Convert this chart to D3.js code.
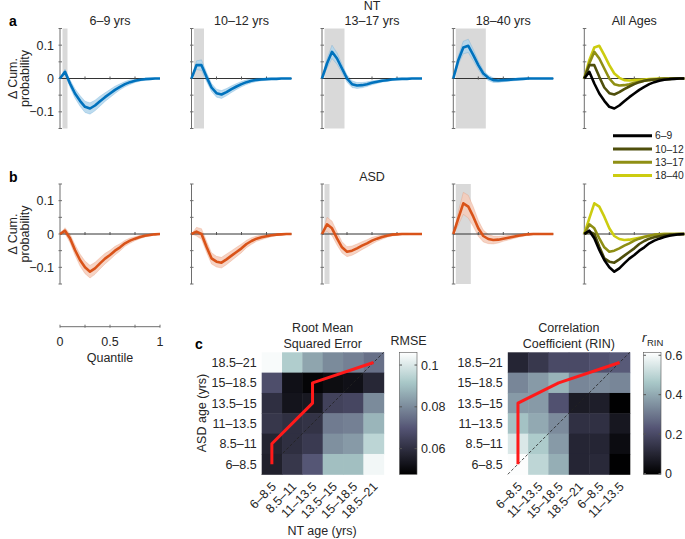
<!DOCTYPE html>
<html><head><meta charset="utf-8">
<script src="https://cdn.jsdelivr.net/npm/d3@7"></script>
<style>body{margin:0;background:#fff}svg{font-family:"Liberation Sans",Arial,sans-serif;}</style>
</head><body>
<svg id="chart" width="685" height="539"></svg>
<script>
// ---------------- DATA ----------------
const quantiles = [0,0.05,0.1,0.15,0.2,0.25,0.3,0.35,0.4,0.45,0.5,0.55,0.6,0.65,0.7,0.75,0.8,0.85,0.9,0.95,1];
const ageGroups = ["6–9","10–12","13–17","18–40"];
const panelTitles = ["6–9 yrs","10–12 yrs","13–17 yrs","18–40 yrs","All Ages"];

// NT mean Δ cumulative probability
const nt6_9   = [0,0.02,-0.015,-0.045,-0.067,-0.085,-0.09,-0.081,-0.068,-0.056,-0.045,-0.034,-0.025,-0.017,-0.011,-0.007,-0.004,-0.002,-0.001,0,0];
const nt10_12 = [0,0.04,0.04,0.005,-0.027,-0.044,-0.048,-0.041,-0.032,-0.024,-0.017,-0.011,-0.007,-0.004,-0.003,-0.002,-0.001,-0.001,0,0,0];
const nt13_17 = [0,0.045,0.08,0.06,0.03,0,-0.017,-0.021,-0.02,-0.017,-0.013,-0.01,-0.007,-0.005,-0.003,-0.002,-0.001,-0.001,0,0,0];
const nt18_40 = [0,0.055,0.093,0.098,0.07,0.04,0.015,0.002,-0.005,-0.006,-0.005,-0.004,-0.003,-0.002,-0.001,0,0,0,0,0,0];
// NT band half-widths
const ntErr6_9   = [0,0.008,0.011,0.014,0.016,0.017,0.017,0.016,0.015,0.013,0.012,0.011,0.009,0.008,0.007,0.005,0.004,0.003,0.002,0.001,0];
const ntErr10_12 = [0,0.013,0.016,0.014,0.012,0.012,0.012,0.011,0.01,0.009,0.008,0.007,0.006,0.005,0.004,0.003,0.002,0.002,0.001,0.001,0];
const ntErr13_17 = [0,0.014,0.02,0.017,0.013,0.011,0.01,0.009,0.008,0.007,0.006,0.005,0.004,0.004,0.003,0.002,0.002,0.001,0.001,0.001,0];
const ntErr18_40 = [0,0.013,0.019,0.02,0.017,0.013,0.01,0.008,0.007,0.006,0.005,0.004,0.004,0.003,0.002,0.002,0.001,0.001,0.001,0.001,0];

// ASD mean Δ cumulative probability
const asd6_9   = [0,0.01,-0.013,-0.048,-0.078,-0.1,-0.113,-0.103,-0.088,-0.074,-0.063,-0.05,-0.04,-0.028,-0.02,-0.014,-0.009,-0.005,-0.003,-0.001,0];
const asd10_12 = [0,0.007,0,-0.038,-0.073,-0.083,-0.086,-0.076,-0.065,-0.054,-0.043,-0.03,-0.021,-0.014,-0.01,-0.007,-0.004,-0.002,-0.001,0,0];
const asd13_17 = [0,0.029,0.017,-0.013,-0.04,-0.053,-0.05,-0.043,-0.035,-0.028,-0.02,-0.014,-0.009,-0.005,-0.002,-0.001,0,0,0,0,0];
const asd18_40 = [0,0.047,0.092,0.082,0.052,0.017,-0.006,-0.015,-0.018,-0.017,-0.014,-0.011,-0.008,-0.005,-0.003,-0.001,0,0,0,0,0];
// ASD band half-widths
const asdErr6_9   = [0,0.009,0.013,0.016,0.018,0.019,0.019,0.018,0.017,0.016,0.014,0.013,0.011,0.009,0.008,0.006,0.005,0.004,0.003,0.002,0];
const asdErr10_12 = [0,0.013,0.016,0.017,0.017,0.016,0.016,0.016,0.015,0.014,0.013,0.011,0.01,0.008,0.007,0.005,0.004,0.003,0.002,0.001,0];
const asdErr13_17 = [0,0.021,0.022,0.02,0.017,0.015,0.014,0.013,0.012,0.011,0.01,0.008,0.007,0.005,0.004,0.003,0.002,0.002,0.001,0.001,0];
const asdErr18_40 = [0,0.02,0.033,0.034,0.03,0.024,0.018,0.014,0.012,0.01,0.008,0.007,0.006,0.005,0.004,0.003,0.002,0.002,0.001,0.001,0];

// significant quantile intervals (grey)
const ntSig  = [[0.025,0.075],[0.025,0.125],[0.025,0.225],[0.025,0.325]];
const asdSig = [null,null,[0.025,0.075],[0.025,0.175]];

const yTicks = [-0.15,-0.1,-0.05,0,0.05,0.1,0.15];
const yTickLabels = [-0.1,0,0.1];
const qTicks = [0,0.25,0.5,0.75,1];
const qTickLabels = [0,0.5,1];

// heatmaps (rows from top: ASD 18.5–21 ... 6–8.5; cols NT bins)
const ageBins = ["6–8.5","8.5–11","11–13.5","13.5–15","15–18.5","18.5–21"];
const rinXLabels = ["6–8.5","11–13.5","15–18.5","18.5–21","6–8.5","11–13.5"];
const rmse = [
  [0.105,0.093,0.085,0.080,0.078,0.075],
  [0.068,0.052,0.049,0.051,0.052,0.058],
  [0.060,0.053,0.054,0.065,0.066,0.080],
  [0.062,0.060,0.061,0.077,0.078,0.088],
  [0.057,0.060,0.063,0.081,0.083,0.095],
  [0.056,0.062,0.070,0.090,0.090,0.104]
];
const rin = [
  [0.10,0.15,0.20,0.20,0.22,0.24],
  [0.33,0.37,0.42,0.33,0.34,0.33],
  [0.37,0.37,0.22,0.07,0.08,0.00],
  [0.45,0.40,0.34,0.13,0.13,0.06],
  [0.55,0.47,0.37,0.10,0.10,0.03],
  [0.61,0.50,0.41,0.10,0.11,0.00]
];
// best-match paths [colIndex,rowIndex from bottom]
const rmsePath = [[0,0],[0,1],[2,3],[2,4],[5,5]];
const rinPath  = [[0,0],[0,3],[2,4],[5,5]];
const rmseTicks = [0.06,0.08,0.1];
const rinTicks = [0,0.2,0.4,0.6];

// ---------------- DRAW ----------------
const svg = d3.select("#chart");
const TXT = "#262626";
const AX = "#6e6e6e";
const ntColor = "#0072BD", ntBand = "#b2d5eb";
const asdColor = "#D95319", asdBand = "#f4cbba";
const ageColors = ["#000000","#4f4f0c","#8f8f14","#cccc10"];

const colX = [60, 191.5, 322, 453.3, 584.3];
const rowTop = [28.5, 184];
const PW = 100, PH = 100;

const rows = [
  {means:[nt6_9,nt10_12,nt13_17,nt18_40], errs:[ntErr6_9,ntErr10_12,ntErr13_17,ntErr18_40], sig:ntSig, color:ntColor, band:ntBand, label:"a"},
  {means:[asd6_9,asd10_12,asd13_17,asd18_40], errs:[asdErr6_9,asdErr10_12,asdErr13_17,asdErr18_40], sig:asdSig, color:asdColor, band:asdBand, label:"b"}
];

function drawAxes(g, x, y, showLabels) {
  g.append("line").attr("x1",x(0)).attr("x2",x(0)).attr("y1",y(-0.15)).attr("y2",y(0.15))
    .attr("stroke",AX).attr("stroke-width",1);
  yTicks.forEach(t=>{
    g.append("line").attr("x1",x(0)-1.5).attr("x2",x(0)+2).attr("y1",y(t)).attr("y2",y(t))
      .attr("stroke",AX).attr("stroke-width",1);
  });
  if (showLabels) {
    yTickLabels.forEach(t=>{
      g.append("text").attr("x",x(0)-6).attr("y",y(t)).attr("dy","0.36em")
        .attr("text-anchor","end").attr("font-size",12.5).attr("fill",TXT).text(t===0?"0":d3.format(".1f")(t));
    });
  }
}
function drawZero(g, x, y) {
  g.append("line").attr("x1",x(0)).attr("x2",x(1)).attr("y1",y(0)).attr("y2",y(0))
    .attr("stroke","#333").attr("stroke-width",1);
  qTicks.slice(1,4).forEach(t=>{
    g.append("line").attr("x1",x(t)).attr("x2",x(t)).attr("y1",y(0)-2).attr("y2",y(0)+1)
      .attr("stroke","#555").attr("stroke-width",1);
  });
}

rows.forEach((row, ri) => {
  const top = rowTop[ri];
  for (let p = 0; p < 5; p++) {
    const g = svg.append("g");
    const x = d3.scaleLinear().domain([0,1]).range([colX[p], colX[p]+PW]);
    const y = d3.scaleLinear().domain([-0.15,0.15]).range([top+PH, top]);
    if (p < 4) {
      const sig = row.sig[p];
      if (sig) g.append("rect").attr("x",x(sig[0])).attr("y",y(0.15)).attr("width",x(sig[1])-x(sig[0]))
        .attr("height",y(-0.15)-y(0.15)).attr("fill","#d9d9d9");
      const data = quantiles.map((q,i)=>({q, m:row.means[p][i], e:row.errs[p][i]}));
      g.append("path").datum(data)
        .attr("d", d3.area().x(d=>x(d.q)).y0(d=>y(d.m-d.e)).y1(d=>y(d.m+d.e)))
        .attr("fill",row.band).attr("fill-opacity",0.85)
        .attr("stroke",row.color).attr("stroke-opacity",0.2).attr("stroke-width",0.8);
      drawAxes(g, x, y, p===0);
      drawZero(g, x, y);
      g.append("path").datum(data)
        .attr("d", d3.line().x(d=>x(d.q)).y(d=>y(d.m)))
        .attr("fill","none").attr("stroke",row.color).attr("stroke-width",2.6).attr("stroke-linejoin","round");
    } else {
      drawAxes(g, x, y, false);
      drawZero(g, x, y);
      for (let k = 3; k >= 0; k--) {
        const data = quantiles.map((q,i)=>({q, m:row.means[k][i]}));
        g.append("path").datum(data)
          .attr("d", d3.line().x(d=>x(d.q)).y(d=>y(d.m)))
          .attr("fill","none").attr("stroke",ageColors[k]).attr("stroke-width",2.6).attr("stroke-linejoin","round");
      }
    }
    if (ri === 0) {
      svg.append("text").attr("x",colX[p]+PW/2).attr("y",25).attr("text-anchor","middle")
        .attr("font-size",12.5).attr("fill",TXT).text(panelTitles[p]);
    }
  }
  svg.append("text").attr("x",9).attr("y",ri===0?26:182).attr("font-size",14).attr("font-weight","bold")
    .attr("fill","#000").text(row.label);
  const yc = top + PH/2;
  svg.append("text").attr("transform",`translate(16.5,${yc}) rotate(-90)`).attr("text-anchor","middle")
    .attr("font-size",12.5).attr("fill",TXT).text("Δ Cum.");
  svg.append("text").attr("transform",`translate(28.5,${yc}) rotate(-90)`).attr("text-anchor","middle")
    .attr("font-size",12.5).attr("fill",TXT).text("probability");
});
svg.append("text").attr("x",colX[2]+PW/2).attr("y",9.5).attr("text-anchor","middle").attr("font-size",12.5).attr("fill",TXT).text("NT");
svg.append("text").attr("x",colX[2]+PW/2).attr("y",180.5).attr("text-anchor","middle").attr("font-size",12.5).attr("fill",TXT).text("ASD");

// legend
const lg = svg.append("g");
ageGroups.forEach((a,i)=>{
  const yy = 135.7 + i*13.3;
  lg.append("line").attr("x1",613).attr("x2",652).attr("y1",yy).attr("y2",yy).attr("stroke",ageColors[i]).attr("stroke-width",3);
  lg.append("text").attr("x",655).attr("y",yy).attr("dy","0.36em").attr("font-size",10.3).attr("fill",TXT).text(a);
});

// quantile axis
{
  const x = d3.scaleLinear().domain([0,1]).range([60,160]);
  const yA = 326.7;
  svg.append("line").attr("x1",x(0)).attr("x2",x(1)).attr("y1",yA).attr("y2",yA).attr("stroke",AX);
  qTicks.forEach(t=>svg.append("line").attr("x1",x(t)).attr("x2",x(t)).attr("y1",yA-2).attr("y2",yA+1).attr("stroke",AX));
  qTickLabels.forEach(t=>svg.append("text").attr("x",x(t)).attr("y",346).attr("text-anchor","middle")
    .attr("font-size",12.5).attr("fill",TXT).text(t));
  svg.append("text").attr("x",110).attr("y",362).attr("text-anchor","middle").attr("font-size",12.5).attr("fill",TXT).text("Quantile");
}

// bone colormap
function bone(t){
  t = Math.max(0, Math.min(1, t));
  const hr = Math.min(1, t/0.375), hg = Math.max(0, Math.min(1,(t-0.375)/0.375)), hb = Math.max(0, Math.min(1,(t-0.75)/0.25));
  const r = (7*t + hb)/8, g = (7*t + hg)/8, b = (7*t + hr)/8;
  return d3.rgb(r*255, g*255, b*255).toString();
}
const defs = svg.append("defs");
const grad = defs.append("linearGradient").attr("id","boneGrad").attr("x1",0).attr("y1",1).attr("x2",0).attr("y2",0);
d3.range(0,1.0001,0.02).forEach(t=>grad.append("stop").attr("offset",t).attr("stop-color",bone(t)));

function heatmap(opts){
  const {x0, y0, size, data, domain, xLabels, path, title1, title2, cbX, cbTicks, cbFmt} = opts;
  const g = svg.append("g");
  const xs = d3.scaleBand().domain(d3.range(6)).range([x0, x0+size]);
  const ys = d3.scaleBand().domain(d3.range(6)).range([y0+size, y0]);
  const cs = d3.scaleLinear().domain(domain).range([0,1]).clamp(true);
  data.forEach((rowVals, ri)=>{
    const rb = 5 - ri;
    rowVals.forEach((v, ci)=>{
      g.append("rect").attr("x",xs(ci)).attr("y",ys(rb)).attr("width",xs.bandwidth()+0.5).attr("height",ys.bandwidth()+0.5)
        .attr("fill",bone(cs(v)));
    });
  });
  g.append("line").attr("x1",x0).attr("y1",y0+size).attr("x2",x0+size).attr("y2",y0)
    .attr("stroke","#222").attr("stroke-width",0.8).attr("stroke-dasharray","3,2");
  g.append("path").datum(path)
    .attr("d", d3.line().x(d=>xs(d[0])+xs.bandwidth()/2).y(d=>ys(d[1])+ys.bandwidth()/2))
    .attr("fill","none").attr("stroke","#ff1a1a").attr("stroke-width",3).attr("stroke-linejoin","round");
  ageBins.forEach((lab,i)=>{
    g.append("text").attr("x",x0-5).attr("y",ys(i)+ys.bandwidth()/2).attr("dy","0.36em").attr("text-anchor","end")
      .attr("font-size",12.5).attr("fill",TXT).text(lab);
  });
  xLabels.forEach((lab,i)=>{
    const cx = xs(i)+xs.bandwidth()/2;
    g.append("text").attr("transform",`translate(${cx+5},${y0+size+13}) rotate(-45)`).attr("text-anchor","end")
      .attr("font-size",12.5).attr("fill",TXT).text(lab);
  });
  g.append("text").attr("x",x0+size/2).attr("y",331.5).attr("text-anchor","middle").attr("font-size",12.5).attr("fill",TXT).text(title1);
  g.append("text").attr("x",x0+size/2).attr("y",347.5).attr("text-anchor","middle").attr("font-size",12.5).attr("fill",TXT).text(title2);
  const cbW = 17.5;
  g.append("rect").attr("x",cbX).attr("y",y0).attr("width",cbW).attr("height",size)
    .attr("fill","url(#boneGrad)").attr("stroke","#555").attr("stroke-width",0.6);
  const cy = d3.scaleLinear().domain(domain).range([y0+size, y0]);
  cbTicks.forEach(t=>{
    g.append("line").attr("x1",cbX+cbW-2.5).attr("x2",cbX+cbW).attr("y1",cy(t)).attr("y2",cy(t)).attr("stroke","#555");
    g.append("line").attr("x1",cbX).attr("x2",cbX+2.5).attr("y1",cy(t)).attr("y2",cy(t)).attr("stroke","#555");
    g.append("text").attr("x",cbX+cbW+4).attr("y",cy(t)).attr("dy","0.36em").attr("font-size",12.5).attr("fill",TXT).text(cbFmt(t));
  });
  return g;
}

heatmap({x0:261.7, y0:352.3, size:122, data:rmse, domain:[0.0477,0.1061], xLabels:ageBins, path:rmsePath,
  title1:"Root Mean", title2:"Squared Error", cbX:399.5, cbTicks:rmseTicks, cbFmt:t=>t===0.1?"0.1":d3.format(".2f")(t)});
heatmap({x0:507.8, y0:352.3, size:122, data:rin, domain:[-0.004,0.615], xLabels:rinXLabels, path:rinPath,
  title1:"Correlation", title2:"Coefficient (RIN)", cbX:643.5, cbTicks:rinTicks, cbFmt:t=>t===0?"0":d3.format(".1f")(t)});

svg.append("text").attr("x",195).attr("y",349).attr("font-size",14).attr("font-weight","bold").attr("fill","#000").text("c");
svg.append("text").attr("transform","translate(206,413) rotate(-90)").attr("text-anchor","middle").attr("font-size",12.5).attr("fill",TXT).text("ASD age (yrs)");
svg.append("text").attr("x",322).attr("y",535).attr("text-anchor","middle").attr("font-size",12.5).attr("fill",TXT).text("NT age (yrs)");
svg.append("text").attr("x",408.5).attr("y",345).attr("text-anchor","middle").attr("font-size",12.5).attr("fill",TXT).text("RMSE");
const rt = svg.append("text").attr("x",642).attr("y",342).attr("font-size",13.5).attr("fill",TXT);
rt.append("tspan").attr("font-style","italic").text("r");
rt.append("tspan").attr("font-size",9.5).attr("dy",4).attr("dx",0.5).text("RIN");
</script>
</body></html>
